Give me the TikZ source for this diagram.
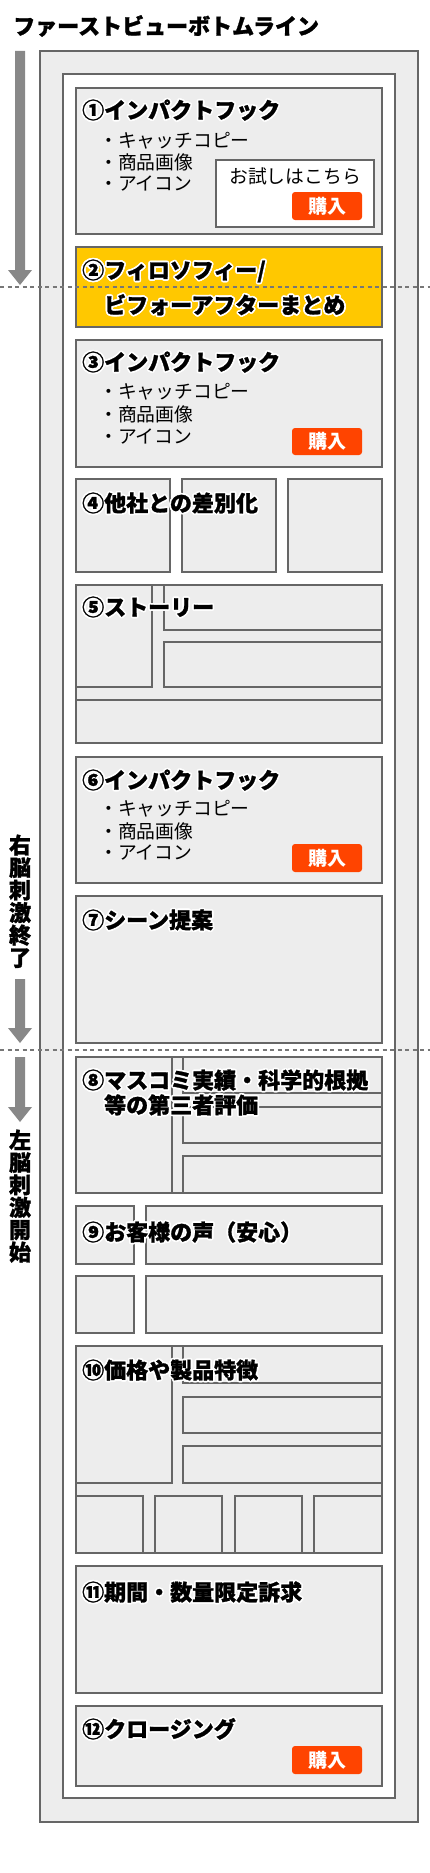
\documentclass[tikz,border=0pt]{standalone}
\usepackage{fontspec}
\setmainfont{Noto Sans CJK JP}[BoldFeatures={FakeBold=1.2}]
\newfontfamily\btnfont{Noto Sans CJK JP}
\definecolor{lineg}{HTML}{666666}
\definecolor{boxg}{HTML}{EDEDED}
\definecolor{yel}{HTML}{FFC800}
\definecolor{btnred}{HTML}{FF4400}
\definecolor{arrg}{HTML}{888888}
\definecolor{dashg}{HTML}{777777}
\tikzset{
  box/.style={draw=lineg, fill=boxg, line width=2.2pt},
  wbox/.style={draw=lineg, fill=white, line width=2.2pt},
  ybox/.style={draw=lineg, fill=yel, line width=2.2pt},
  btn/.style={fill=btnred, rounded corners=3pt},
  lbl/.style={inner sep=0pt, anchor=base west, font=\fontsize{22}{22}\selectfont\bfseries},
  itm/.style={inner sep=0pt, anchor=base west, font=\fontsize{18.8}{18.8}\selectfont},
  btntxt/.style={inner sep=0pt, anchor=base, text=white, font=\btnfont\fontsize{19}{19}\selectfont\bfseries},
  vtxt/.style={inner sep=0pt, anchor=base, font=\fontsize{22}{22}\selectfont\bfseries},
  arrowshape/.style={fill=arrg, draw=none},
  divider/.style={draw=dashg, line width=2pt, dash pattern=on 4pt off 3.5pt}
}
% #1 x, #2 vertical centre of text, #3 name, #4 text
\newcommand{\halo}[4]{%
  \foreach \a in {0,30,...,330}{\node[lbl,text=white,shift={(\a:1.7)}] at (#1,#2+8.4) {#4};}
  \node[lbl] (#3) at (#1,#2+8.4) {#4};%
}
\newcommand{\itemtext}[3]{\node[itm] (#2) at (99,#1+7) {#3};}
\newcommand{\buybutton}[3]{% top, bottom, name
  \fill[btn] (292,#1) rectangle (362,#2);
  \node[btntxt] (#3) at (327,#1/2+#2/2+7.2) {購入};
}
\newcommand{\grayarrow}[3]{% x, top, tip
  \fill[arrowshape] (#1-5,#2) -- (#1+5,#2) -- (#1+5,#3-15) -- (#1+12,#3-15) -- (#1,#3) -- (#1-12,#3-15) -- (#1-5,#3-15) -- cycle;
}
\begin{document}
\begin{tikzpicture}[x=1pt,y=-1pt]
\useasboundingbox (0,0) rectangle (430,1873);
\fill[white] (0,0) rectangle (430,1873);

% title
\node[lbl] (title) at (13,26+8.4) {ファーストビューボトムライン};

% frames
\draw[box] (40,51) rectangle (418,1822);
\draw[wbox] (63,74) rectangle (395,1798);

% 1
\draw[box] (76,88) rectangle (382,234);
\halo{82}{110}{t1}{①インパクトフック}
\itemtext{140}{b1a}{・キャッチコピー}
\itemtext{162}{b1b}{・商品画像}
\itemtext{183}{b1c}{・アイコン}
\draw[wbox] (216,160) rectangle (374,227);
\node[itm,anchor=base] (trial) at (295,176+7) {お試しはこちら};
\buybutton{192}{220}{buy1}

% 2
\draw[ybox] (76,247) rectangle (382,327);
\halo{82}{270}{t2}{②フィロソフィー/}
\halo{104}{305}{t2b}{ビフォーアフターまとめ}

% 3
\draw[box] (76,340) rectangle (382,467);
\halo{82}{362}{t3}{③インパクトフック}
\itemtext{391}{b3a}{・キャッチコピー}
\itemtext{414}{b3b}{・商品画像}
\itemtext{436}{b3c}{・アイコン}
\buybutton{428}{455}{buy3}

% 4
\draw[box] (76,479) rectangle (170,572);
\draw[box] (182,479) rectangle (276,572);
\draw[box] (288,479) rectangle (382,572);
\halo{82}{503}{t4}{④他社との差別化}

% 5
\draw[box] (76,585) rectangle (382,743);
\draw[box] (76,585) rectangle (152,687);
\draw[box] (164,585) rectangle (382,630);
\draw[box] (164,642) rectangle (382,687);
\draw[box] (76,700) rectangle (382,743);
\halo{82}{607}{t5}{⑤ストーリー}

% 6
\draw[box] (76,757) rectangle (382,883);
\halo{82}{780}{t6}{⑥インパクトフック}
\itemtext{808}{b6a}{・キャッチコピー}
\itemtext{831}{b6b}{・商品画像}
\itemtext{852}{b6c}{・アイコン}
\buybutton{844}{872}{buy6}

% 7
\draw[box] (76,896) rectangle (382,1043);
\halo{82}{920}{t7}{⑦シーン提案}

% 8
\draw[box] (76,1057) rectangle (382,1193);
\draw[box] (76,1057) rectangle (172,1193);
\draw[box] (183,1057) rectangle (382,1093);
\draw[box] (183,1107) rectangle (382,1143);
\draw[box] (183,1156) rectangle (382,1193);
\halo{82}{1080}{t8}{⑧マスコミ実績・科学的根拠}
\halo{104}{1105}{t8b}{等の第三者評価}

% 9
\draw[box] (76,1206) rectangle (134,1264);
\draw[box] (146,1206) rectangle (382,1264);
\draw[box] (76,1276) rectangle (134,1333);
\draw[box] (146,1276) rectangle (382,1333);
\halo{82}{1232}{t9}{⑨お客様の声（安心）}

% 10
\draw[box] (76,1346) rectangle (382,1553);
\draw[box] (76,1346) rectangle (172,1483);
\draw[box] (183,1346) rectangle (382,1383);
\draw[box] (183,1397) rectangle (382,1433);
\draw[box] (183,1446) rectangle (382,1483);
\draw[box] (76,1496) rectangle (143,1553);
\draw[box] (155,1496) rectangle (222,1553);
\draw[box] (235,1496) rectangle (302,1553);
\draw[box] (314,1496) rectangle (382,1553);
\halo{82}{1370}{t10}{⑩価格や製品特徴}

% 11
\draw[box] (76,1566) rectangle (382,1693);
\halo{82}{1592}{t11}{⑪期間・数量限定訴求}

% 12
\draw[box] (76,1706) rectangle (382,1786);
\halo{82}{1729}{t12}{⑫クロージング}
\buybutton{1746}{1774}{buy12}

% arrows
\grayarrow{20}{51}{285}
\grayarrow{20}{979}{1043}
\grayarrow{20}{1057}{1122}

% vertical texts
\foreach \c [count=\i from 0] in {右,脳,刺,激,終,了}
  \node[vtxt] (r\i) at (20,845+22.5*\i+8.4) {\c};
\foreach \c [count=\i from 0] in {左,脳,刺,激,開,始}
  \node[vtxt] (l\i) at (20,1140+22.4*\i+8.4) {\c};

% dividers
\draw[divider] (0,287) -- (430,287);
\draw[divider] (0,1050) -- (430,1050);
\end{tikzpicture}
\end{document}
